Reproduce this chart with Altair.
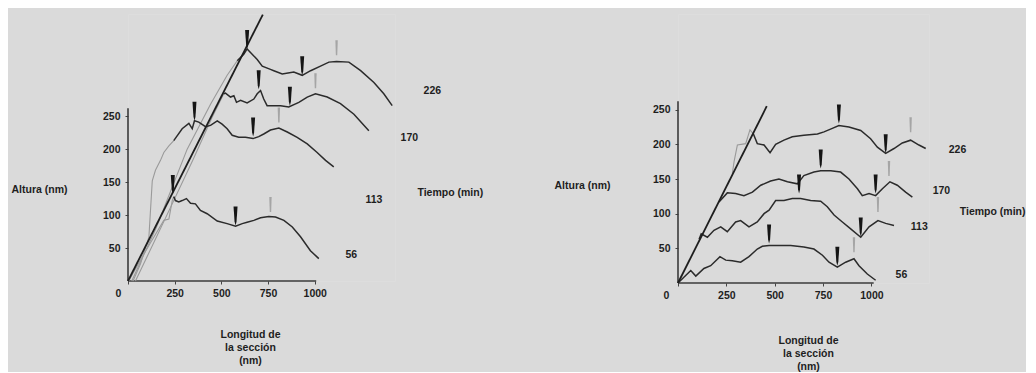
import altair as alt
import pandas as pd

# ---------------- data ----------------
series_names = ["56", "113", "170", "226"]

# Left panel: rising (grey) part and main (dark) part of each profile
L_rise = {
    "56":  ([4, 85, 150, 192, 219, 237, 245], [0, 41, 72, 92, 94, 122, 128]),
    "113": ([27, 67, 112, 130, 147, 174, 192, 219, 245], [0, 26, 67, 152, 168, 183, 195, 205, 213]),
    "170": ([40, 200, 350, 450, 513], [0, 95, 185, 248, 284]),
    "226": ([20, 150, 317, 442, 531, 585], [0, 80, 200, 268, 312, 334]),
}
L_main = {
    "56": ([245, 254, 272, 290, 313, 335, 361, 388, 424, 478, 531, 576, 612, 638, 674, 710, 754, 790, 835, 880, 924, 977, 1022],
           [128, 122, 120, 122, 125, 118, 117, 107, 102, 91, 87, 83, 87, 89, 92, 96, 98, 97, 92, 82, 67, 46, 34]),
    "113": ([245, 290, 326, 344, 356, 379, 415, 442, 478, 504, 531, 558, 593, 629, 670, 700, 727, 763, 808, 853, 906, 960, 1013, 1058, 1102],
            [213, 231, 239, 231, 243, 241, 234, 236, 243, 238, 231, 221, 218, 218, 216, 219, 223, 229, 232, 226, 218, 208, 195, 183, 173]),
    "170": ([513, 522, 549, 567, 581, 603, 638, 674, 692, 710, 727, 745, 781, 817, 861, 915, 960, 1004, 1067, 1138, 1210, 1290],
            [284, 285, 279, 281, 271, 274, 270, 276, 284, 289, 276, 266, 266, 266, 264, 271, 279, 284, 279, 269, 253, 228]),
    "226": ([585, 620, 638, 665, 692, 719, 763, 781, 826, 888, 933, 978, 1031, 1076, 1117, 1183, 1246, 1317, 1370, 1415],
            [334, 344, 352, 344, 336, 326, 321, 319, 314, 317, 312, 319, 326, 332, 333, 332, 319, 301, 284, 266]),
}
L_black = {"x": [240, 576, 356, 670, 700, 867, 638, 933],
           "y": [132, 84, 243, 219, 291, 266, 352, 312]}
L_grey = {"x": [763, 808, 1004, 1117], "y": [100, 236, 288, 338]}
L_fit = ([0, 722], [0, 404])
L_label_x = [1165, 1272, 1460, 1583]
L_label_y = [40, 123, 217, 288]

# Right panel
R_rise = {
    "226": ([281, 290, 307, 350, 372, 390], [158, 175, 199, 201, 221, 215]),
}
R_main = {
    "56": ([0, 66, 92, 134, 169, 217, 247, 281, 324, 367, 410, 436, 471, 514, 566, 583, 651, 703, 747, 781, 824, 867, 910, 936, 979, 1022],
           [0, 18, 10, 21, 25, 38, 33, 32, 30, 38, 49, 53, 54, 54, 54, 54, 52, 49, 40, 30, 23, 30, 35, 25, 13, 4]),
    "113": ([109, 120, 152, 186, 221, 255, 298, 324, 367, 410, 445, 471, 505, 548, 591, 634, 686, 738, 772, 807, 850, 893, 945, 988, 1034, 1074, 1117],
            [63, 71, 66, 76, 81, 74, 88, 90, 81, 88, 100, 105, 119, 119, 122, 122, 119, 118, 110, 98, 88, 78, 66, 81, 90, 86, 83]),
    "170": ([212, 255, 298, 341, 385, 428, 479, 522, 566, 617, 651, 703, 738, 790, 841, 884, 928, 953, 988, 1022, 1057, 1096, 1134, 1177, 1212],
            [117, 130, 129, 126, 131, 141, 147, 150, 146, 143, 155, 160, 162, 162, 160, 150, 136, 126, 129, 126, 136, 146, 141, 131, 124]),
    "226": ([390, 410, 445, 476, 505, 548, 591, 651, 721, 755, 798, 832, 884, 945, 996, 1031, 1074, 1117, 1160, 1203, 1246, 1281],
            [215, 201, 199, 188, 200, 206, 211, 213, 215, 218, 223, 227, 225, 220, 208, 196, 187, 194, 202, 206, 199, 194]),
}
R_black = {"x": [471, 824, 626, 945, 738, 1022, 832, 1074],
           "y": [57, 25, 129, 67, 165, 129, 230, 187]}
R_grey = {"x": [910, 1034, 1091, 1203], "y": [40, 98, 150, 213]}
R_fit = ([0, 459], [0, 255])
R_label_x = [1125, 1204, 1317, 1400]
R_label_y = [11, 81, 132, 192]

x_ticks = [0, 250, 500, 750, 1000]
y_ticks = [50, 100, 150, 200, 250]

FONT = "Liberation Sans"
DARK = "#2b2b2b"
GREY = "#9a9a9a"


def frame(d):
    rows = []
    for k, (xs, ys) in d.items():
        for a, b in zip(xs, ys):
            rows.append({"s": k, "x": a, "y": b})
    return pd.DataFrame(rows)


BLACK_MARK = "M-2,-19 L2,-19 L1,-4 L0,0 L-1,-4 Z"
GREY_MARK = "M-1.2,-18 L1.2,-18 L0.7,-3 L-0.7,-3 Z"


def panel(rise, main, black, grey, fit, lab_x, lab_y, tiempo, xmax, ymax, w, h,
          ytitle_x, ytitle_y, xtitle_x, xtitle_y, zero_off, ytop, xright):
    xs = alt.Scale(domain=[0, xmax], nice=False, zero=False)
    ys = alt.Scale(domain=[0, ymax], nice=False, zero=False)
    xaxis = alt.Axis(values=x_ticks, format="d", domain=False, grid=False, tickSize=3, tickColor="#444",
                     labelFontWeight="bold", labelFontSize=10.5, labelColor="#1e1e1e", labelPadding=4,
                     labelFont=FONT, labelFlush=False,
                     labelOffset={"condition": {"test": "datum.value === 0", "value": zero_off}, "value": 0},
                     title=["Longitud de", "la sección", "(nm)"], titleFont=FONT, titleFontSize=10.5,
                     titleFontWeight="bold", titleColor="#1e1e1e", titleAlign="center",
                     titleBaseline="top", titleLineHeight=13, titleX=xtitle_x, titleY=xtitle_y)
    yaxis = alt.Axis(values=y_ticks, format="d", domain=False, grid=False, tickSize=3, tickColor="#444",
                     labelFontWeight="bold", labelFontSize=10.5, labelColor="#1e1e1e", labelPadding=5,
                     labelFont=FONT,
                     title="Altura (nm)", titleAngle=0, titleFont=FONT, titleFontSize=10.5,
                     titleFontWeight="bold", titleColor="#1e1e1e", titleAlign="left",
                     titleBaseline="middle", titleX=ytitle_x, titleY=ytitle_y)

    main_df = frame(main)
    base_x = alt.X("x:Q", scale=xs, axis=xaxis)
    base_y = alt.Y("y:Q", scale=ys, axis=yaxis)

    layers = []
    # axis lines
    ax_df = pd.DataFrame({"x": [0, 0], "x2": [0, xright], "y": [0, 0], "y2": [ytop, 0]})
    layers.append(alt.Chart(ax_df).mark_rule(color="#3a3a3a", strokeWidth=1.6).encode(
        x=base_x, x2="x2:Q", y=base_y, y2="y2:Q"))
    if rise:
        layers.append(alt.Chart(frame(rise)).mark_line(color=GREY, strokeWidth=1.1).encode(
            x="x:Q", y="y:Q", detail="s:N"))
    layers.append(alt.Chart(main_df).mark_line(color=DARK, strokeWidth=1.5).encode(
        x="x:Q", y="y:Q", detail="s:N"))
    fit_df = pd.DataFrame({"x": fit[0], "y": fit[1]})
    layers.append(alt.Chart(fit_df).mark_line(color="#1e1e1e", strokeWidth=1.8).encode(x="x:Q", y="y:Q"))
    layers.append(alt.Chart(pd.DataFrame(black)).mark_point(
        shape=BLACK_MARK, size=4, filled=True, fill="#151515", stroke=None, opacity=1).encode(x="x:Q", y="y:Q"))
    layers.append(alt.Chart(pd.DataFrame(grey)).mark_point(
        shape=GREY_MARK, size=4, filled=True, fill="#a5a5a5", stroke=None, opacity=1).encode(x="x:Q", y="y:Q"))
    lab_df = pd.DataFrame({"x": lab_x, "y": lab_y, "t": series_names})
    layers.append(alt.Chart(lab_df).mark_text(
        align="left", baseline="middle", font=FONT, fontWeight="bold", fontSize=10.5, color="#1e1e1e").encode(
        x="x:Q", y="y:Q", text="t:N"))
    tdf = pd.DataFrame({"x": [tiempo[0]], "y": [tiempo[1]], "t": ["Tiempo (min)"]})
    layers.append(alt.Chart(tdf).mark_text(
        align="left", baseline="middle", font=FONT, fontWeight="bold", fontSize=10.5, color="#1e1e1e").encode(
        x="x:Q", y="y:Q", text="t:N"))
    return alt.layer(*layers).properties(width=w, height=h)


left = panel(L_rise, L_main, L_black, L_grey, L_fit, L_label_x, L_label_y, (1550, 134),
             1430, 405, 267, 267, -117, 175, 122, 48, -10, 262, 1008)
right = panel(R_rise, R_main, R_black, R_grey, R_fit, R_label_x, R_label_y, (1457, 102),
              1298, 388, 251, 269, -124, 171, 130, 52, -12, 262, 1012)

chart = alt.hconcat(left, right, spacing=283, bounds="flush").properties(
    padding={"left": 2, "top": 2, "right": 0, "bottom": 0},
    background="#dadada",
).configure_view(stroke=None).configure(font=FONT)

chart.save("out.html", embed_options={"renderer": "svg", "actions": False})
